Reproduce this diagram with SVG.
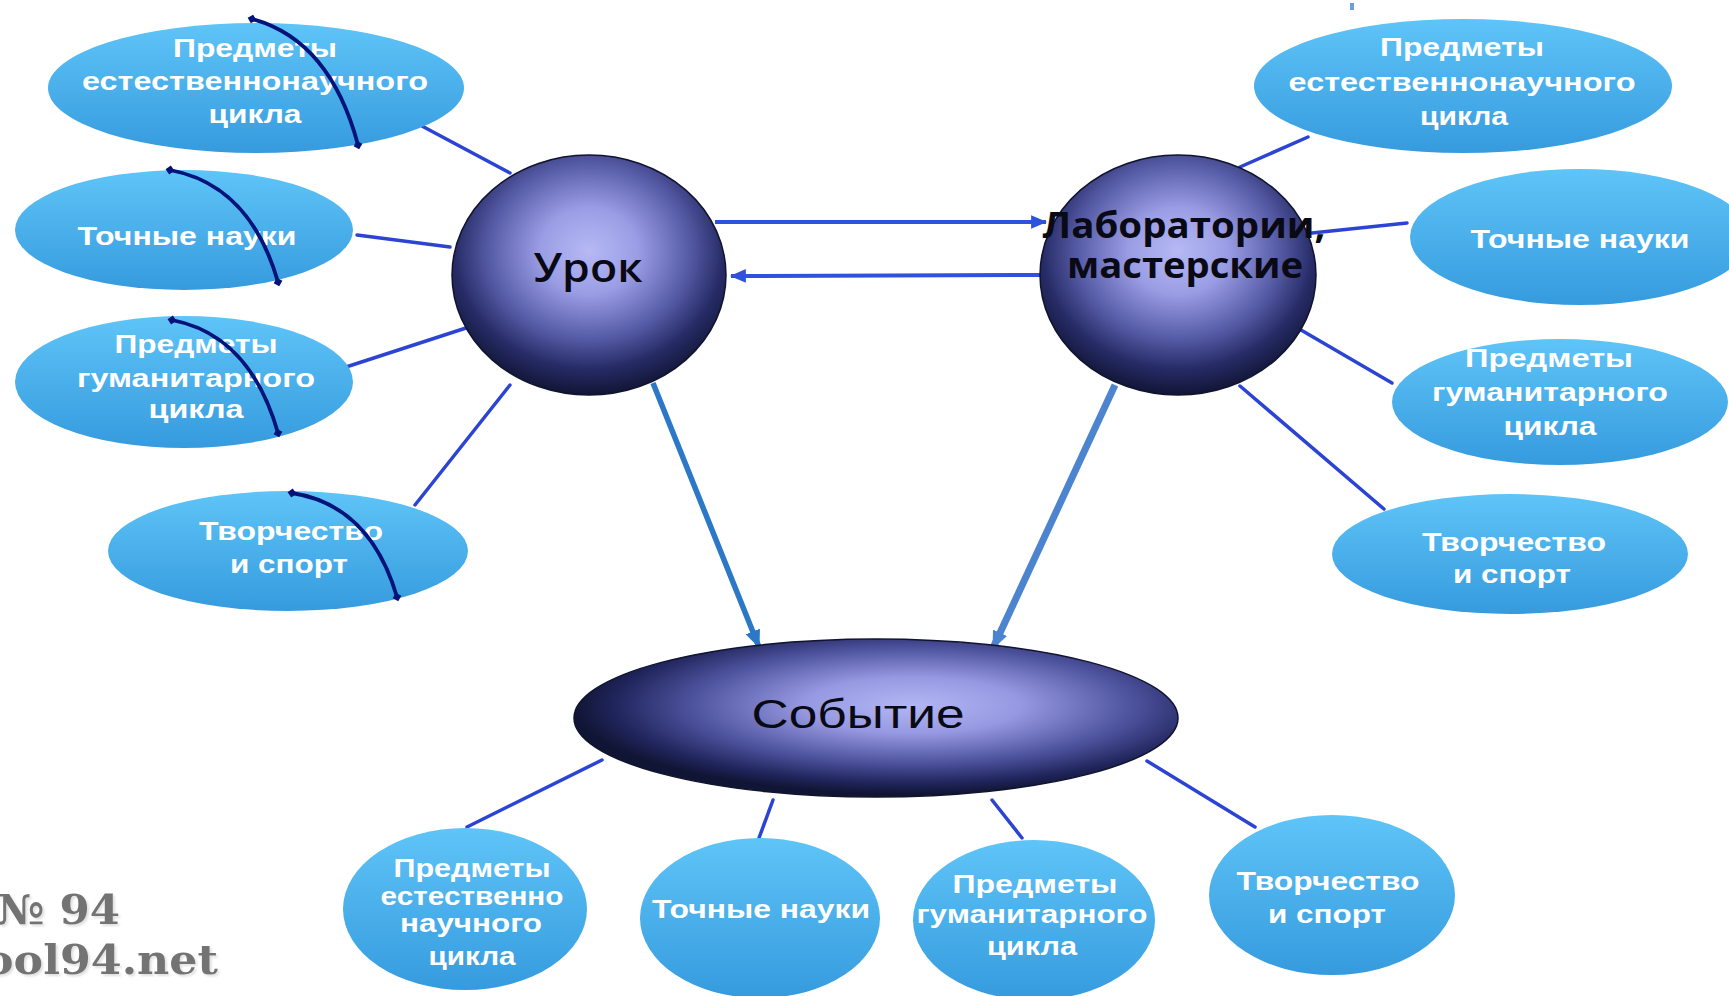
<svg xmlns="http://www.w3.org/2000/svg" width="1729" height="996" viewBox="0 0 1729 996">
<defs>
<style>
.lbl{font-family:"Liberation Sans",Arial,sans-serif;font-weight:bold;font-size:25px;fill:#ffffff;text-anchor:middle}
.sub{fill:url(#skyblue)}
.conn{stroke:#2b44d4;stroke-width:3.5;fill:none;stroke-linecap:round}
.arc{stroke:#04137a;stroke-width:3.8;fill:none;marker-start:url(#dia);marker-end:url(#dia)}
.wm{font-family:"DejaVu Serif",serif;font-weight:bold;font-size:41px;fill:#737373;filter:url(#wmshadow)}
.lab{font-family:"Open Sans","Liberation Sans",sans-serif;font-weight:700;font-size:35px;fill:#0a0a14;text-anchor:middle}
</style>
<filter id="wmshadow" x="-10%" y="-30%" width="130%" height="160%">
<feDropShadow dx="2" dy="2" stdDeviation="0.8" flood-color="#e0e0e0" flood-opacity="1"/>
</filter>
<linearGradient id="skyblue" x1="0" y1="0" x2="0" y2="1">
<stop offset="0" stop-color="#5fc4f7"/>
<stop offset="1" stop-color="#359bde"/>
</linearGradient>
<radialGradient id="sphere" cx="0.5" cy="0.4" r="0.6">
<stop offset="0" stop-color="#b6b9f4"/>
<stop offset="0.3" stop-color="#9a9de4"/>
<stop offset="0.6" stop-color="#585da9"/>
<stop offset="0.82" stop-color="#262b66"/>
<stop offset="1" stop-color="#111535"/>
</radialGradient>
<radialGradient id="sphere2" cx="0.56" cy="0.42" r="0.56">
<stop offset="0" stop-color="#b3b6f3"/>
<stop offset="0.32" stop-color="#9699e1"/>
<stop offset="0.66" stop-color="#4c519c"/>
<stop offset="0.88" stop-color="#20255c"/>
<stop offset="1" stop-color="#111535"/>
</radialGradient>
<marker id="dia" viewBox="-5 -5 10 10" markerWidth="10" markerHeight="10" markerUnits="userSpaceOnUse" orient="auto">
<path d="M0,-4.5 L4.5,0 L0,4.5 L-4.5,0 Z" fill="#04137a"/>
</marker>
<marker id="ah" viewBox="0 -6 14 12" markerWidth="16" markerHeight="14" markerUnits="userSpaceOnUse" orient="auto" refX="13" refY="0">
<path d="M0,-6 L14,0 L0,6 Z" fill="#2f52dc"/>
</marker>
<marker id="ah2" viewBox="0 -6 14 12" markerWidth="18" markerHeight="16" markerUnits="userSpaceOnUse" orient="auto" refX="13" refY="0">
<path d="M0,-6 L14,0 L0,6 Z" fill="#2a78c6"/>
</marker>
<marker id="ah3" viewBox="0 -6 14 12" markerWidth="18" markerHeight="16" markerUnits="userSpaceOnUse" orient="auto" refX="13" refY="0">
<path d="M0,-6 L14,0 L0,6 Z" fill="#4c84cf"/>
</marker>
</defs>
<rect width="1729" height="996" fill="#ffffff"/>
<rect x="1350" y="3" width="4" height="7" fill="#6f9be0"/>

<g id="connectors">
<line class="conn" x1="420" y1="125" x2="510" y2="173"/>
<line class="conn" x1="357" y1="235" x2="450" y2="247"/>
<line class="conn" x1="343" y1="368" x2="466" y2="328"/>
<line class="conn" x1="415" y1="505" x2="510" y2="385"/>
<line class="conn" x1="1240" y1="167" x2="1308" y2="137"/>
<line class="conn" x1="1312" y1="233" x2="1407" y2="223"/>
<line class="conn" x1="1301" y1="330" x2="1392" y2="383"/>
<line class="conn" x1="1240" y1="386" x2="1384" y2="509"/>
<line class="conn" x1="602" y1="760" x2="467" y2="827"/>
<line class="conn" x1="773" y1="800" x2="759" y2="838"/>
<line class="conn" x1="992" y1="800" x2="1022" y2="838"/>
<line class="conn" x1="1147" y1="761" x2="1255" y2="827"/>
<line x1="715" y1="222" x2="1046" y2="222" stroke="#2f52dc" stroke-width="4" marker-end="url(#ah)"/>
<line x1="1042" y1="275" x2="731" y2="276" stroke="#2f52dc" stroke-width="4" marker-end="url(#ah)"/>
<line x1="653" y1="383" x2="759" y2="647" stroke="#2a78c6" stroke-width="5.5" marker-end="url(#ah2)"/>
<line x1="1115" y1="385" x2="993" y2="648" stroke="#4c84cf" stroke-width="7" marker-end="url(#ah3)"/>
</g>

<g id="urok">
<ellipse cx="589" cy="275" rx="137" ry="120" fill="url(#sphere)" stroke="#10142e" stroke-width="1.5"/>
<text x="588" y="282" font-family="'Open Sans','Liberation Sans',sans-serif" font-weight="600" font-size="40" fill="#0a0a14" text-anchor="middle" textLength="109" lengthAdjust="spacingAndGlyphs">Урок</text>
</g>

<g id="lab">
<ellipse cx="1178" cy="275" rx="138" ry="120" fill="url(#sphere)" stroke="#10142e" stroke-width="1.5"/>
<text class="lab" x="1184" y="238" textLength="283" lengthAdjust="spacingAndGlyphs">Лаборатории,</text>
<text class="lab" x="1185" y="278" textLength="236" lengthAdjust="spacingAndGlyphs">мастерские</text>
</g>

<g id="sobytie">
<ellipse cx="876" cy="718" rx="302" ry="79" fill="url(#sphere2)" stroke="#10142e" stroke-width="1.5"/>
<text x="858" y="728" font-family="'Liberation Sans',Arial,sans-serif" font-size="40" fill="#0a0a14" text-anchor="middle" textLength="213" lengthAdjust="spacingAndGlyphs">Событие</text>
</g>

<g id="left-natural">
<ellipse class="sub" cx="256" cy="88" rx="208" ry="65"/>
<text class="lbl" x="255" y="57" textLength="164" lengthAdjust="spacingAndGlyphs">Предметы</text>
<text class="lbl" x="255" y="90" textLength="346" lengthAdjust="spacingAndGlyphs">естественнонаучного</text>
<text class="lbl" x="255" y="123" textLength="93" lengthAdjust="spacingAndGlyphs">цикла</text>
</g>
<g id="left-exact">
<ellipse class="sub" cx="184" cy="230" rx="169" ry="60"/>
<text class="lbl" x="187" y="245" textLength="219" lengthAdjust="spacingAndGlyphs">Точные науки</text>
</g>
<g id="left-humanities">
<ellipse class="sub" cx="184" cy="382" rx="169" ry="66"/>
<text class="lbl" x="196" y="353" textLength="163" lengthAdjust="spacingAndGlyphs">Предметы</text>
<text class="lbl" x="196" y="387" textLength="238" lengthAdjust="spacingAndGlyphs">гуманитарного</text>
<text class="lbl" x="196" y="418" textLength="95" lengthAdjust="spacingAndGlyphs">цикла</text>
</g>
<g id="left-creative">
<ellipse class="sub" cx="288" cy="551" rx="180" ry="60"/>
<text class="lbl" x="291" y="540" textLength="184" lengthAdjust="spacingAndGlyphs">Творчество</text>
<text class="lbl" x="289" y="573" textLength="118" lengthAdjust="spacingAndGlyphs">и спорт</text>
</g>

<g id="right-natural">
<ellipse class="sub" cx="1463" cy="86" rx="209" ry="67"/>
<text class="lbl" x="1462" y="56" textLength="164" lengthAdjust="spacingAndGlyphs">Предметы</text>
<text class="lbl" x="1462" y="91" textLength="347" lengthAdjust="spacingAndGlyphs">естественнонаучного</text>
<text class="lbl" x="1464" y="125" textLength="88" lengthAdjust="spacingAndGlyphs">цикла</text>
</g>
<g id="right-exact">
<ellipse class="sub" cx="1580" cy="237" rx="170" ry="68"/>
<text class="lbl" x="1580" y="248" textLength="219" lengthAdjust="spacingAndGlyphs">Точные науки</text>
</g>
<g id="right-humanities">
<ellipse class="sub" cx="1560" cy="402" rx="168" ry="63"/>
<text class="lbl" x="1549" y="367" textLength="168" lengthAdjust="spacingAndGlyphs">Предметы</text>
<text class="lbl" x="1550" y="401" textLength="236" lengthAdjust="spacingAndGlyphs">гуманитарного</text>
<text class="lbl" x="1550" y="435" textLength="93" lengthAdjust="spacingAndGlyphs">цикла</text>
</g>
<g id="right-creative">
<ellipse class="sub" cx="1510" cy="554" rx="178" ry="60"/>
<text class="lbl" x="1514" y="551" textLength="184" lengthAdjust="spacingAndGlyphs">Творчество</text>
<text class="lbl" x="1512" y="583" textLength="118" lengthAdjust="spacingAndGlyphs">и спорт</text>
</g>

<g id="bottom-natural">
<ellipse class="sub" cx="465" cy="909" rx="122" ry="81"/>
<text class="lbl" x="472" y="877" textLength="157" lengthAdjust="spacingAndGlyphs">Предметы</text>
<text class="lbl" x="472" y="905" textLength="183" lengthAdjust="spacingAndGlyphs">естественно</text>
<text class="lbl" x="471" y="932" textLength="142" lengthAdjust="spacingAndGlyphs">научного</text>
<text class="lbl" x="472" y="965" textLength="87" lengthAdjust="spacingAndGlyphs">цикла</text>
</g>
<g id="bottom-exact">
<ellipse class="sub" cx="760" cy="918" rx="120" ry="80"/>
<text class="lbl" x="761" y="918" textLength="218" lengthAdjust="spacingAndGlyphs">Точные науки</text>
</g>
<g id="bottom-humanities">
<ellipse class="sub" cx="1034" cy="920" rx="121" ry="80"/>
<text class="lbl" x="1035" y="893" textLength="165" lengthAdjust="spacingAndGlyphs">Предметы</text>
<text class="lbl" x="1032" y="923" textLength="231" lengthAdjust="spacingAndGlyphs">гуманитарного</text>
<text class="lbl" x="1032" y="955" textLength="90" lengthAdjust="spacingAndGlyphs">цикла</text>
</g>
<g id="bottom-creative">
<ellipse class="sub" cx="1332" cy="895" rx="123" ry="80"/>
<text class="lbl" x="1328" y="890" textLength="183" lengthAdjust="spacingAndGlyphs">Творчество</text>
<text class="lbl" x="1327" y="923" textLength="118" lengthAdjust="spacingAndGlyphs">и спорт</text>
</g>

<g id="arcs">
<path class="arc" d="M252,19 Q330,40 358,145"/>
<path class="arc" d="M170,170 Q250,185 278,282"/>
<path class="arc" d="M172,320 Q250,335 278,433"/>
<path class="arc" d="M292,493 Q370,505 397,597"/>
</g>

<g id="watermark">
<text class="wm" x="-3" y="924" textLength="123" lengthAdjust="spacingAndGlyphs">№ 94</text>
<text class="wm" x="-16" y="974" textLength="234" lengthAdjust="spacingAndGlyphs">ool94.net</text>
</g>
</svg>
